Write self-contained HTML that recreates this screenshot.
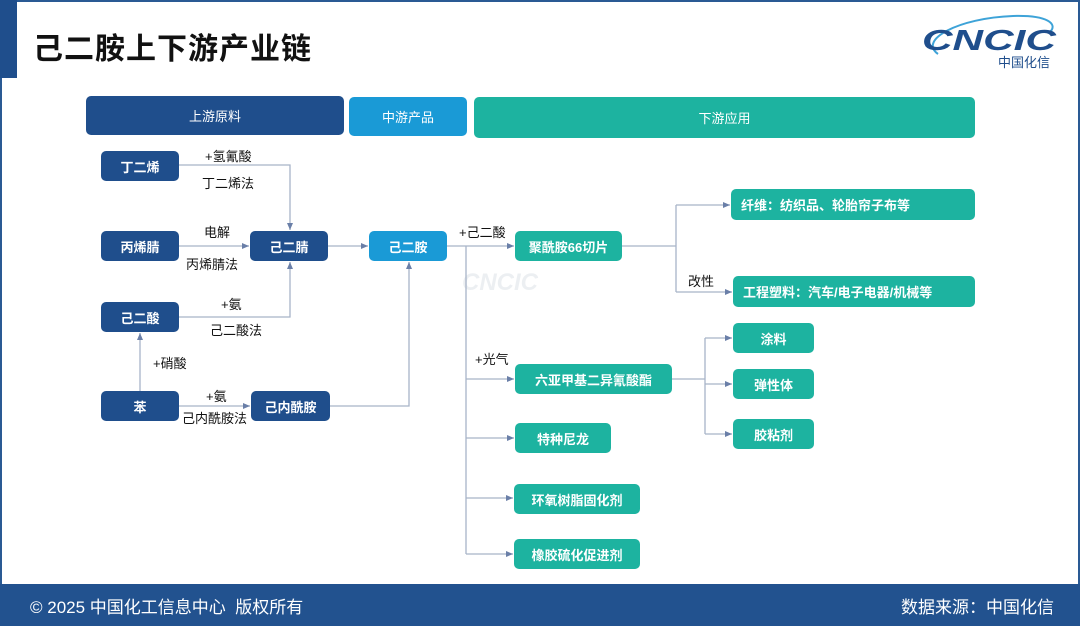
<!DOCTYPE html>
<html><head><meta charset="utf-8">
<style>
*{margin:0;padding:0;box-sizing:border-box}
body{width:1080px;height:626px;position:relative;background:#fff;overflow:hidden;font-family:"Liberation Sans","Noto Sans CJK SC",sans-serif}
.frame{position:absolute;left:0;top:0;width:1080px;height:626px;border:2px solid #2a5a94}
.bar{position:absolute;left:0;top:0;width:17px;height:78px;background:#1f4e8c}
.title{position:absolute;left:33px;top:24px;font-size:30px;font-weight:bold;color:#111;letter-spacing:1px}
.b{position:absolute;display:flex;align-items:center;justify-content:center;color:#fff;font-size:13px;font-weight:bold;border-radius:5px}
.d{background:#1f4e8c}.m{background:#1a9ad6}.t{background:#1db3a0}
.l{position:absolute;font-size:13px;color:#111;white-space:nowrap}
.footer{position:absolute;left:0;top:584px;width:1080px;height:42px;background:#22528f;color:#fff;font-size:17px}
.footer span{position:absolute;top:9px}
</style></head><body>
<div class="frame"></div>
<div class="bar"></div>
<div class="title">己二胺上下游产业链</div>
<svg style="position:absolute;left:918px;top:10px" width="145" height="62" viewBox="0 0 145 62">
<path d="M20,44 C0,30 40,8 95,6 C130,5 140,14 132,22" fill="none" stroke="#3ea3d8" stroke-width="2"/>
<text x="4" y="40" font-family="Liberation Sans" font-weight="bold" font-style="italic" font-size="29" fill="#1f4e8c" textLength="134" lengthAdjust="spacingAndGlyphs">CNCIC</text>
<text x="80" y="57" font-family="Noto Sans CJK SC" font-size="13" fill="#1f4e8c">中国化信</text>
</svg>
<svg style="position:absolute;left:462px;top:268px;opacity:.15" width="100" height="36"><text x="0" y="22" font-family="Liberation Sans" font-weight="bold" font-style="italic" font-size="24" fill="#8899aa">CNCIC</text></svg>

<div class="b d" style="left:86px;top:96px;width:258px;height:39px;font-weight:normal">上游原料</div>
<div class="b m" style="left:349px;top:97px;width:118px;height:39px;font-weight:normal">中游产品</div>
<div class="b t" style="left:474px;top:97px;width:501px;height:41px;font-weight:normal">下游应用</div>

<svg style="position:absolute;left:0;top:0" width="1080" height="626">
<defs><marker id="a" markerWidth="8" markerHeight="8" refX="7" refY="4" orient="auto" markerUnits="userSpaceOnUse"><path d="M0,1 L7,4 L0,7z" fill="#6a7fa8"/></marker></defs>
<g stroke="#a8b4c8" stroke-width="1.3" fill="none">
<path d="M179,165 H290 V230" marker-end="url(#a)"/>
<path d="M179,246 H249" marker-end="url(#a)"/>
<path d="M179,317 H290 V262" marker-end="url(#a)"/>
<path d="M140,391 V333" marker-end="url(#a)"/>
<path d="M179,406 H250" marker-end="url(#a)"/>
<path d="M330,406 H409 V262" marker-end="url(#a)"/>
<path d="M328,246 H368" marker-end="url(#a)"/>
<path d="M447,246 H514" marker-end="url(#a)"/>
<path d="M466,246 V554"/>
<path d="M466,379 H514" marker-end="url(#a)"/>
<path d="M466,438 H514" marker-end="url(#a)"/>
<path d="M466,498 H513" marker-end="url(#a)"/>
<path d="M466,554 H513" marker-end="url(#a)"/>
<path d="M622,246 H676 M676,205 V292"/>
<path d="M676,205 H730" marker-end="url(#a)"/>
<path d="M676,292 H732" marker-end="url(#a)"/>
<path d="M672,379 H705 M705,338 V434"/>
<path d="M705,338 H732" marker-end="url(#a)"/>
<path d="M705,384 H732" marker-end="url(#a)"/>
<path d="M705,434 H732" marker-end="url(#a)"/>
</g></svg>

<div class="b d" style="left:101px;top:151px;width:78px;height:30px">丁二烯</div>
<div class="b d" style="left:101px;top:231px;width:78px;height:30px">丙烯腈</div>
<div class="b d" style="left:101px;top:302px;width:78px;height:30px">己二酸</div>
<div class="b d" style="left:101px;top:391px;width:78px;height:30px">苯</div>
<div class="b d" style="left:250px;top:231px;width:78px;height:30px">己二腈</div>
<div class="b d" style="left:251px;top:391px;width:79px;height:30px">己内酰胺</div>
<div class="b m" style="left:369px;top:231px;width:78px;height:30px">己二胺</div>
<div class="b t" style="left:515px;top:231px;width:107px;height:30px">聚酰胺66切片</div>
<div class="b t" style="left:731px;top:189px;width:244px;height:31px;justify-content:flex-start;padding-left:10px">纤维：纺织品、轮胎帘子布等</div>
<div class="b t" style="left:733px;top:276px;width:242px;height:31px;justify-content:flex-start;padding-left:10px">工程塑料：汽车/电子电器/机械等</div>
<div class="b t" style="left:515px;top:364px;width:157px;height:30px">六亚甲基二异氰酸酯</div>
<div class="b t" style="left:733px;top:323px;width:81px;height:30px">涂料</div>
<div class="b t" style="left:733px;top:369px;width:81px;height:30px">弹性体</div>
<div class="b t" style="left:733px;top:419px;width:81px;height:30px">胶粘剂</div>
<div class="b t" style="left:515px;top:423px;width:96px;height:30px">特种尼龙</div>
<div class="b t" style="left:514px;top:484px;width:126px;height:30px">环氧树脂固化剂</div>
<div class="b t" style="left:514px;top:539px;width:126px;height:30px">橡胶硫化促进剂</div>

<div class="l" style="left:205px;top:146px">+氢氰酸</div>
<div class="l" style="left:202px;top:173px">丁二烯法</div>
<div class="l" style="left:204px;top:222px">电解</div>
<div class="l" style="left:186px;top:254px">丙烯腈法</div>
<div class="l" style="left:221px;top:294px">+氨</div>
<div class="l" style="left:210px;top:320px">己二酸法</div>
<div class="l" style="left:153px;top:353px">+硝酸</div>
<div class="l" style="left:206px;top:386px">+氨</div>
<div class="l" style="left:182px;top:408px">己内酰胺法</div>
<div class="l" style="left:459px;top:222px">+己二酸</div>
<div class="l" style="left:475px;top:349px">+光气</div>
<div class="l" style="left:688px;top:271px">改性</div>

<div class="footer"><span style="left:30px">© 2025 中国化工信息中心&nbsp; 版权所有</span><span style="right:26px">数据来源：中国化信</span></div>
</body></html>
